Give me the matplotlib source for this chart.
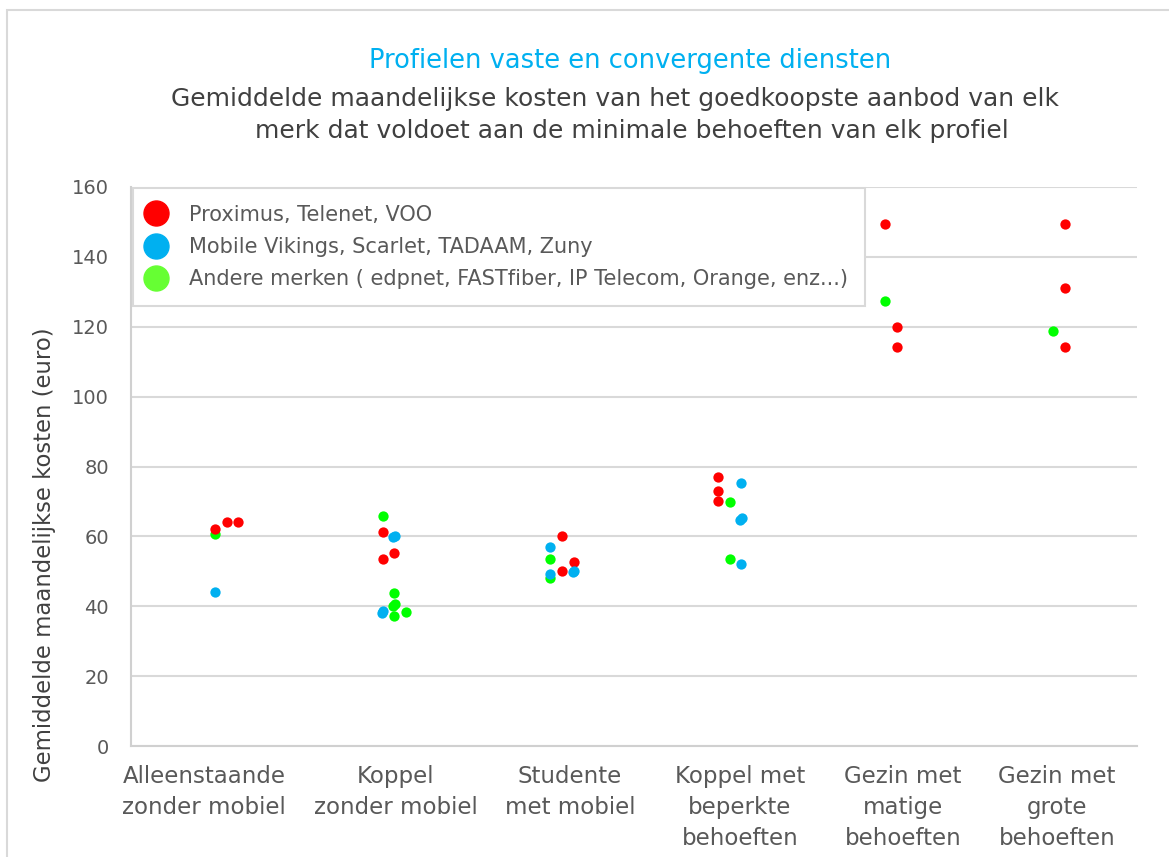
import matplotlib.pyplot as plt
from matplotlib.lines import Line2D
from matplotlib.patches import Rectangle

categories = ['Alleenstaande\nzonder mobiel', 'Koppel\nzonder mobiel', 'Studente\nmet mobiel',
              'Koppel met\nbeperkte\nbehoeften', 'Gezin met\nmatige\nbehoeften', 'Gezin met\ngrote\nbehoeften']
label_pos = [0.935, 2.08, 3.118, 4.132, 5.104, 6.023]

# Proximus, Telenet, VOO
red_x = [1.0, 1.07, 1.14, 2.0, 2.07, 2.0, 3.07, 3.14, 3.07, 4.0, 4.0, 4.0, 5.0, 5.07, 5.07, 6.07, 6.07, 6.07]
red_y = [62.1, 64.1, 64.1, 61.3, 55.1, 53.5, 60.2, 52.6, 50.1, 77.1, 73.0, 70.1, 149.4, 120.0, 114.1, 149.4, 131.0, 114.1]
# Mobile Vikings, Scarlet, TADAAM, Zuny
blue_x = [1.0, 2.065, 2.075, 1.995, 2.005, 3.0, 3.135, 3.145, 3.0, 4.14, 4.135, 4.145, 4.14]
blue_y = [44.1, 59.7, 60.2, 38.0, 38.6, 57.0, 49.7, 50.1, 49.2, 75.2, 64.8, 65.2, 52.1]
# Andere merken
green_x = [1.0, 2.0, 2.07, 2.065, 2.075, 2.07, 2.14, 3.0, 3.0, 4.07, 4.07, 5.0, 6.0]
green_y = [60.7, 65.8, 43.7, 40.2, 40.6, 37.2, 38.4, 53.5, 48.1, 69.7, 53.5, 127.5, 118.8]

legend_labels = ['Proximus, Telenet, VOO', 'Mobile Vikings, Scarlet, TADAAM, Zuny',
                 'Andere merken ( edpnet, FASTfiber, IP Telecom, Orange, enz...)']

fig = plt.figure(figsize=(11.69, 8.57), dpi=100)
ax = fig.add_axes([131 / 1169, 1 - 746 / 857, 1006 / 1169, 559 / 857])

ax.scatter(green_x, green_y, s=55, color='#00ff00', zorder=3, linewidths=0)
ax.scatter(red_x, red_y, s=55, color='#ff0000', zorder=3, linewidths=0)
ax.scatter(blue_x, blue_y, s=55, color='#00b0f0', zorder=3, linewidths=0)

ax.set_xlim(0.5, 6.5)
ax.set_ylim(0, 160)
ax.set_yticks(range(0, 161, 20))
ax.set_xticks(label_pos)
ax.set_xticklabels(categories, linespacing=1.45)
ax.tick_params(axis='y', length=0, pad=16, labelsize=14, labelcolor='#595959')
ax.tick_params(axis='x', length=0, pad=13.5, labelsize=16.5, labelcolor='#595959')
ax.grid(axis='y', color='#d9d9d9', linewidth=1.5)
ax.set_axisbelow(True)
for side in ['top', 'right']:
    ax.spines[side].set_visible(False)
for side in ['left', 'bottom']:
    ax.spines[side].set_color('#d0d0d0')
    ax.spines[side].set_linewidth(1.5)

handles = [Line2D([], [], linestyle='', marker='o', markersize=18, color=c)
           for c in ['#ff0000', '#00b0f0', '#66ff33']]
leg = ax.legend(handles, legend_labels, loc='upper left', bbox_to_anchor=(0.002, 0.998),
                borderaxespad=0, fontsize=15, labelcolor='#595959', handletextpad=1.3,
                labelspacing=0.58, fancybox=False, framealpha=1, borderpad=0.8,
                handlelength=0.6)
leg.get_frame().set_edgecolor('#d9d9d9')
leg.get_frame().set_linewidth(1.5)

fig.text(630 / 1169, 1 - 61 / 857, 'Profielen vaste en convergente diensten',
         ha='center', va='center', fontsize=18.5, color='#00b0f0')
fig.text(615 / 1169, 1 - 99 / 857, 'Gemiddelde maandelijkse kosten van het goedkoopste aanbod van elk',
         ha='center', va='center', fontsize=18, color='#404040')
fig.text(632 / 1169, 1 - 131 / 857, 'merk dat voldoet aan de minimale behoeften van elk profiel',
         ha='center', va='center', fontsize=18, color='#404040')
fig.text(45 / 1169, 1 - 555 / 857, 'Gemiddelde maandelijkse kosten (euro)', rotation=90,
         ha='center', va='center', fontsize=16.4, color='#404040')

fig.patches.append(Rectangle((7 / 1169, -0.1), 1.2, 1.1 - 10 / 857, transform=fig.transFigure,
                             fill=False, edgecolor='#d9d9d9', linewidth=1.5))

fig.savefig('out.png', dpi=100)
